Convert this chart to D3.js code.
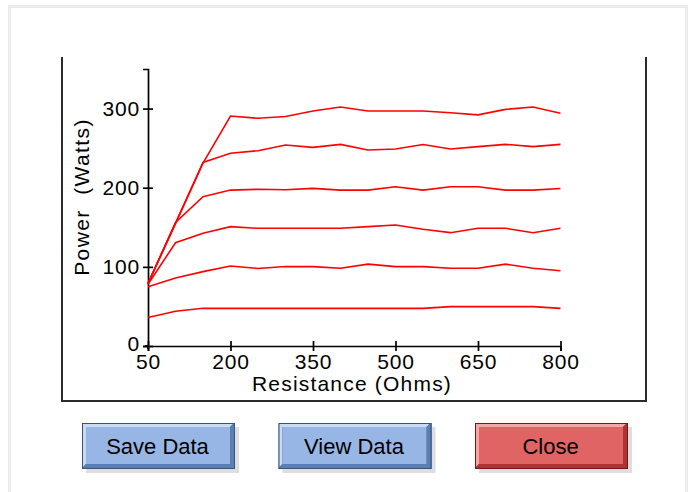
<!DOCTYPE html>
<html>
<head>
<meta charset="utf-8">
<script src="https://cdn.jsdelivr.net/npm/d3@7/dist/d3.min.js"></script>
<style>
  html, body { margin: 0; padding: 0; background: #ffffff; }
  svg { display: block; }
  text { font-family: "Liberation Sans", Arial, sans-serif; fill: #000; }
</style>
</head>
<body>
<svg id="chart" width="691" height="492"></svg>
<script>
// ---- data ----
const resistance = [50, 100, 150, 200, 250, 300, 350, 400, 450, 500, 550, 600, 650, 700, 750, 800];
const series1 = [36, 44, 47.6, 47.6, 47.6, 47.6, 47.6, 47.6, 47.6, 47.6, 47.6, 49.7, 49.7, 49.7, 49.7, 47.6];
const series2 = [75, 86, 94, 101, 98, 100.5, 100.3, 98.2, 103.5, 100.3, 100.3, 98.2, 98.2, 103.4, 98.2, 95];
const series3 = [78, 130.5, 142.4, 150.8, 148.7, 148.7, 148.7, 148.7, 150.8, 152.9, 147.5, 143.2, 148.7, 148.7, 143.2, 148.7];
const series4 = [79, 156, 188.7, 197, 198, 197.5, 199.2, 197, 197, 201.3, 197, 201.3, 201.3, 197, 197, 199];
const series5 = [79, 155, 232, 243.5, 246.8, 254, 251, 254.8, 247.7, 249, 254.5, 249, 251.9, 254.8, 251.9, 254.8];
const series6 = [79, 155, 231, 290.6, 287.7, 290, 297, 302, 297, 297, 297, 294.8, 292, 299, 302, 294];
const allSeries = [series1, series2, series3, series4, series5, series6];
const xTicks = [50, 200, 350, 500, 650, 800];
const yTicks = [0, 100, 200, 300];
const xTitle = "Resistance (Ohms)";
const yTitle = "Power\u00a0\u00a0(Watts)";
const buttons = [
  { label: "Save Data", kind: "blue" },
  { label: "View Data", kind: "blue" },
  { label: "Close", kind: "red" }
];

const svg = d3.select("#chart");

// outer light frame
svg.append("rect")
  .attr("x", 9.5).attr("y", 6.5).attr("width", 677).attr("height", 500)
  .attr("fill", "none").attr("stroke", "#ececec").attr("stroke-width", 3);

// inner open box
svg.append("path")
  .attr("d", "M62,57V401H646V57")
  .attr("fill", "none").attr("stroke", "#2a2a2a").attr("stroke-width", 2);

const x = d3.scaleLinear().domain([50, 800]).range([148, 560.5]);
const y = d3.scaleLinear().domain([0, 350]).range([346, 69]);

// x axis
const gx = svg.append("g").attr("transform", `translate(0,${y(0)})`)
  .call(d3.axisBottom(x).tickValues(xTicks).tickFormat(d3.format("d"))
        .tickSizeOuter(0).tickSize(5).tickPadding(3));
gx.selectAll(".tick line").attr("y1", -5).attr("y2", 5);
// y axis
const gy = svg.append("g").attr("transform", `translate(${x(50)},0)`)
  .call(d3.axisLeft(y).tickValues(yTicks).tickFormat(d3.format("d"))
        .tickSizeOuter(0).tickSize(5).tickPadding(3));
gy.selectAll(".tick line").attr("x1", 5).attr("x2", -5);
// the "0" label sits just above the x-axis labels
gy.selectAll(".tick text").filter(d => d === 0).attr("dy", "0.2em");

svg.selectAll(".domain, .tick line").attr("stroke", "#000").attr("stroke-width", 1.7);
svg.selectAll(".tick text")
  .attr("font-family", "Liberation Sans, Arial, sans-serif")
  .attr("font-size", 21).attr("letter-spacing", 0.8).attr("fill", "#000");
// small overhang of the axes at the origin
svg.append("line").attr("x1", x(50) - 3).attr("x2", x(50)).attr("y1", y(0)).attr("y2", y(0))
  .attr("stroke", "#000").attr("stroke-width", 1.7);
svg.append("line").attr("x1", x(50)).attr("x2", x(50)).attr("y1", y(0)).attr("y2", y(0) + 3)
  .attr("stroke", "#000").attr("stroke-width", 1.7);

// titles
svg.append("text").attr("x", 352).attr("y", 391).attr("text-anchor", "middle")
  .attr("font-size", 21).attr("letter-spacing", 1.2).text(xTitle);
svg.append("text").attr("transform", "translate(89,197) rotate(-90)")
  .attr("text-anchor", "middle").attr("font-size", 21).attr("letter-spacing", 1.4)
  .text(yTitle);

// lines
const line = d3.line().x((d, i) => x(resistance[i])).y(d => y(d));
svg.append("g").selectAll("path").data(allSeries).join("path")
  .attr("d", line).attr("fill", "none").attr("stroke", "#ff0000").attr("stroke-width", 1.6);

// buttons
const bx = d3.scalePoint().domain(buttons.map(b => b.label)).range([82, 475]);
const bw = 153, bh = 46, by = 423;
const palette = {
  blue: { fill: "#97b6e5", light: "#c9daf3", dark: "#35557f", mid: "#5b7fb2" },
  red: { fill: "#e06464", light: "#f3a8a8", dark: "#7e1212", mid: "#ad3434" }
};
const gb = svg.append("g").selectAll("g").data(buttons).join("g")
  .attr("transform", d => `translate(${bx(d.label)},${by})`);
// shadow
gb.append("rect").attr("x", 4).attr("y", 4).attr("width", bw).attr("height", bh)
  .attr("fill", "#c8c8c8").attr("opacity", 0.6);
gb.append("rect").attr("x", 0).attr("y", 0).attr("width", bw).attr("height", bh)
  .attr("fill", d => palette[d.kind].dark);
gb.append("path")
  .attr("d", `M0,0H${bw - 1}L${bw - 5},4H4V${bh - 5}L0,${bh - 1}Z`)
  .attr("fill", d => palette[d.kind].light);
gb.append("path")
  .attr("d", `M${bw},0V${bh}H0L4,${bh - 5}H${bw - 5}V4Z`)
  .attr("fill", d => palette[d.kind].mid);
gb.append("rect").attr("x", 4).attr("y", 4).attr("width", bw - 9).attr("height", bh - 9)
  .attr("fill", d => palette[d.kind].fill);
gb.append("rect").attr("x", 0.5).attr("y", 0.5).attr("width", bw - 1).attr("height", bh - 1)
  .attr("fill", "none").attr("stroke", d => palette[d.kind].dark).attr("stroke-width", 1);
gb.append("text").attr("x", bw / 2 - 1).attr("y", 31).attr("text-anchor", "middle")
  .attr("font-size", 22).attr("fill", "#111").text(d => d.label);
</script>
</body>
</html>
